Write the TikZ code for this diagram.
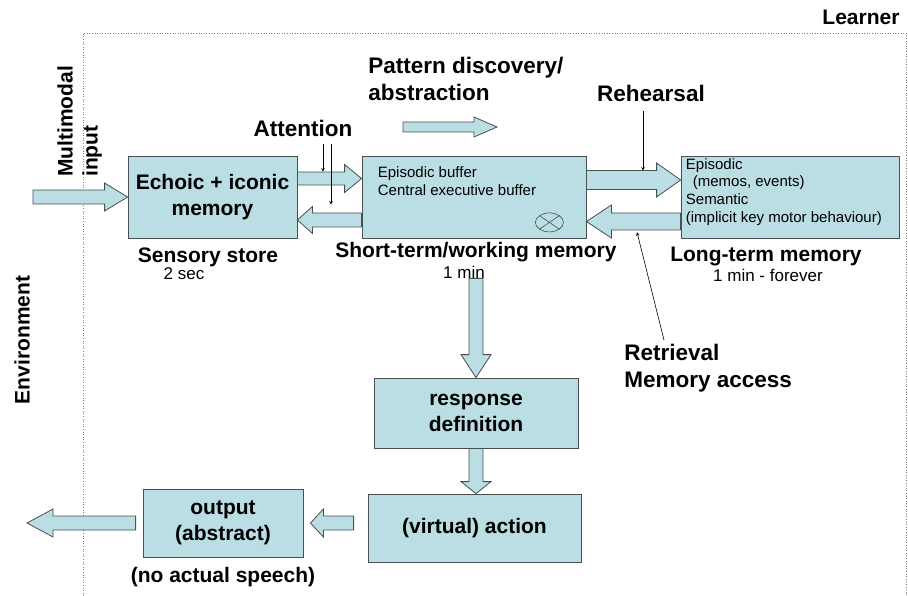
\documentclass[tikz,border=0pt]{standalone}
\usepackage{fontspec}
\setmainfont{Liberation Sans}
\usetikzlibrary{arrows, calc}

\definecolor{boxfill}{RGB}{186,222,228}
\definecolor{boxline}{RGB}{72,80,82}

% fat outlined arrow: tail, tip, half shaft, half head, head length
\newcommand{\blockarrow}[5]{%
	\draw[barrow] ($(#1)!#3!-90:(#2)$)
		-- ($(#2)!#5!(#1)!#3!-90:(#2)$)
		-- ($(#2)!#5!(#1)!#4!-90:(#2)$)
		-- (#2)
		-- ($(#2)!#5!(#1)!#4!90:(#2)$)
		-- ($(#2)!#5!(#1)!#3!90:(#2)$)
		-- ($(#1)!#3!90:(#2)$) -- cycle;}

\begin{document}
\begin{tikzpicture}[
            x = 1pt, y = -1pt, % pixel grid, y goes down
            > = stealth, % arrow head style
            semithick % line style
        ]

        \tikzstyle{box}=[
            draw = boxline,
            fill = boxfill,
            thick,
            align = center,
            inner sep = 0pt,
            font = \fontsize{21}{26}\selectfont\bfseries
        ]
        \tikzstyle{barrow}=[draw = boxline, fill = boxfill, thick, line join = miter]
        \tikzstyle{lbl}=[inner sep = 0pt, align = left, font = \fontsize{21}{25}\selectfont\bfseries]
        \tikzstyle{big}=[inner sep = 0pt, align = left, font = \fontsize{22.5}{27}\selectfont\bfseries]
        \tikzstyle{note}=[inner sep = 0pt, align = left, font = \fontsize{15}{17.7}\selectfont]
        \tikzstyle{time}=[inner sep = 0pt, font = \fontsize{17}{20}\selectfont]

	\useasboundingbox (0,0) rectangle (908,596);
	\draw[gray, dotted] (83,596) -- (83,33) -- (906,33) -- (906,596);

	\node[box, minimum width = 169, minimum height = 82] (echo) at (212.5,197) {Echoic + iconic\\memory};
	\node[box, minimum width = 224, minimum height = 82] (stm) at (474,197) {};
	\node[box, minimum width = 218, minimum height = 82] (ltm) at (790,197) {};
	\node[box, minimum width = 204, minimum height = 70] (resp) at (476,413) {response\\definition};
	\node[box, minimum width = 213, minimum height = 68] (act) at (474.5,528) {(virtual) action};
	\node[box, minimum width = 160, minimum height = 68] (out) at (223,523) {output\\(abstract)};

	\node[note, anchor = north west] (buf) at ($(stm.north west)+(16,11)$) {Episodic buffer\\Central executive buffer};
	\node[note, anchor = north west] (kinds) at ($(ltm.north west)+(5,2.5)$) {Episodic\\\hspace*{7pt}(memos, events)\\Semantic\\(implicit key motor behaviour)};
	\coordinate (mix) at ($(stm.south east)+(-37,-16)$);
	\draw[boxline] (mix) ellipse [x radius = 14, y radius = 9.5];
	\draw[boxline] ($(mix)+(-9.9,-6.7)$) -- ($(mix)+(9.9,6.7)$);
	\draw[boxline] ($(mix)+(-9.9,6.7)$) -- ($(mix)+(9.9,-6.7)$);

	\node[lbl] (sens) at (208,257) {Sensory store};
	\node[time] (t1) at (184,274) {2 sec};
	\node[lbl] (stml) at (476,252) {Short-term/working memory};
	\node[time] (t2) at (464,272) {1 min};
	\node[lbl] (ltml) at (766,257) {Long-term memory};
	\node[time] (t3) at (768,275) {1 min - forever};
	\node[lbl] (speech) at (223,577) {(no actual speech)};
	\node[lbl] (learner) at (861,17) {Learner};
	\node[lbl, rotate = 90] (env) at (22,340) {Environment};
	\node[lbl, rotate = 90, anchor = north west] (input) at (57,177) {Multimodal\\input};
	\node[big] (att) at (303,128) {Attention};
	\node[big, anchor = west] (pat) at (368,78.5) {Pattern discovery/\\abstraction};
	\node[big] (reh) at (651,93) {Rehearsal};
	\node[big, anchor = west] (ret) at (624,368.5) {Retrieval\\Memory access};

	\coordinate (in) at (33,197);
	\blockarrow{in}{echo.west}{7pt}{14pt}{23pt}
	\coordinate (f1) at ($(echo.east)+(0,-18.5)$);
	\coordinate (f1e) at ($(stm.west)+(0,-18.5)$);
	\blockarrow{f1}{f1e}{6.5pt}{14pt}{17pt}
	\coordinate (b1) at ($(stm.west)+(0,23)$);
	\coordinate (b1e) at ($(echo.east)+(0,23)$);
	\blockarrow{b1}{b1e}{7pt}{13.5pt}{15pt}
	\coordinate (p1) at (403,127);
	\coordinate (p2) at (497,127);
	\blockarrow{p1}{p2}{5pt}{10pt}{23pt}
	\coordinate (f2) at ($(stm.east)+(0,-17)$);
	\coordinate (f2e) at ($(ltm.west)+(0,-17)$);
	\blockarrow{f2}{f2e}{9.5pt}{17pt}{24pt}
	\coordinate (b2) at ($(ltm.west)+(0,24.5)$);
	\coordinate (b2e) at ($(stm.east)+(0,24.5)$);
	\blockarrow{b2}{b2e}{8.5pt}{16.5pt}{25pt}
	\coordinate (d1) at ($(stm.south)+(2,40)$);
	\blockarrow{d1}{resp.north}{7pt}{15pt}{23pt}
	\coordinate (d2e) at (resp.south |- act.north);
	\blockarrow{resp.south}{d2e}{7pt}{15pt}{12pt}
	\coordinate (l1) at ($(act.west)+(-14,-5)$);
	\coordinate (l1e) at ($(out.east)+(7,0)$);
	\blockarrow{l1}{l1e}{7pt}{14pt}{13pt}
	\coordinate (l2) at ($(out.west)+(-7,0)$);
	\coordinate (l2e) at (27,523);
	\blockarrow{l2}{l2e}{7pt}{14pt}{26pt}

	\draw[->] ($(att.south)+(20,7)$) -- +(0,28);
	\draw[->] ($(att.south)+(28,7)$) -- +(0,61);
	\draw[->] ($(reh.south)+(-8,9)$) -- +(0,60);
	\draw[->] ($(ret.north west)+(40,-4)$) -- +(-27,-108);

    \end{tikzpicture}
\end{document}
